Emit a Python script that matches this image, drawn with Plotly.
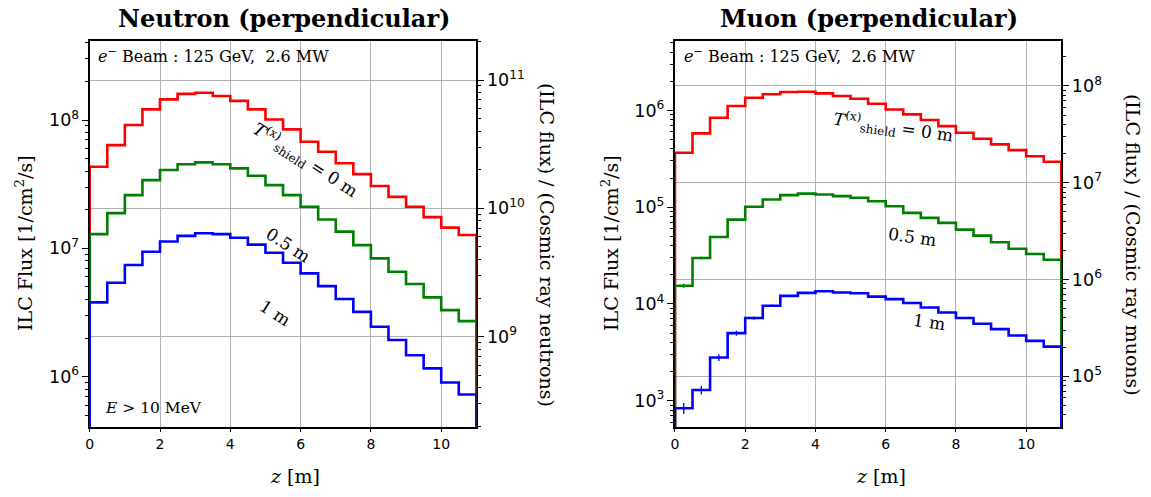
import math
import plotly.graph_objects as go

# ---------------- data ----------------
z_edges = [0.0, 0.5, 1.0, 1.5, 2.0, 2.5, 3.0, 3.5, 4.0, 4.5, 5.0, 5.5,
           6.0, 6.5, 7.0, 7.5, 8.0, 8.5, 9.0, 9.5, 10.0, 10.5, 11.0]

neutron_0m = [4.33e7, 6.38e7, 9.14e7, 1.21e8, 1.45e8, 1.60e8, 1.63e8, 1.54e8, 1.41e8, 1.21e8, 1.01e8,
              8.46e7, 6.77e7, 5.66e7, 4.60e7, 3.79e7, 3.06e7, 2.52e7, 2.11e7, 1.75e7, 1.45e7, 1.27e7]
neutron_05m = [1.29e7, 1.88e7, 2.60e7, 3.40e7, 4.08e7, 4.52e7, 4.68e7, 4.52e7, 4.20e7, 3.68e7, 3.11e7,
               2.60e7, 2.11e7, 1.68e7, 1.35e7, 1.06e7, 8.36e6, 6.57e6, 5.27e6, 4.15e6, 3.30e6, 2.71e6]
neutron_1m = [3.79e6, 5.39e6, 7.41e6, 9.41e6, 1.13e7, 1.25e7, 1.31e7, 1.29e7, 1.21e7, 1.07e7, 9.24e6,
              7.73e6, 6.38e6, 5.08e6, 4.03e6, 3.20e6, 2.45e6, 1.93e6, 1.47e6, 1.16e6, 9.01e5, 7.26e5]

muon_0m = [3.65e5, 5.78e5, 8.40e5, 1.11e6, 1.35e6, 1.47e6, 1.55e6, 1.56e6, 1.50e6, 1.41e6, 1.32e6,
           1.17e6, 1.02e6, 9.09e5, 7.94e5, 6.88e5, 5.88e5, 5.09e5, 4.45e5, 3.88e5, 3.36e5, 2.94e5]
muon_05m = [1.54e4, 2.98e4, 4.92e4, 7.43e4, 1.01e5, 1.20e5, 1.33e5, 1.38e5, 1.35e5, 1.30e5, 1.25e5,
            1.15e5, 1.02e5, 8.72e4, 7.74e4, 6.87e4, 5.86e4, 5.08e4, 4.33e4, 3.72e4, 3.28e4, 2.86e4]
muon_1m = [835, 1290, 2790, 4990, 7140, 9570, 1.21e4, 1.30e4, 1.35e4, 1.31e4, 1.29e4,
           1.19e4, 1.12e4, 1.02e4, 9.19e3, 8.15e3, 7.14e3, 6.23e3, 5.49e3, 4.71e3, 4.15e3, 3.62e3]

# relative statistical errors (muon histograms)
muon_0m_relerr = [0.01] * 22
muon_05m_relerr = [0.05, 0.035, 0.02, 0.015, 0.012] + [0.01] * 17
muon_1m_relerr = [0.13, 0.10, 0.08, 0.06, 0.04, 0.03, 0.02, 0.02, 0.02, 0.02, 0.02,
                  0.02, 0.02, 0.02, 0.02, 0.02, 0.02, 0.02, 0.02, 0.02, 0.02, 0.02]

# cosmic-ray reference fluxes [1/cm^2/s] used for the right-hand axes
cosmic_neutron_flux = 2.05e-3
cosmic_muon_flux = 1.79e-2

# axis ranges (log10) for the left axes
neutron_range = [5.61, 8.616]
muon_range = [2.731, 6.717]

colors = {"0m": "#ff0000", "05m": "#008000", "1m": "#0000ff"}

W, H = 1151, 497
SERIF = "DejaVu Serif"
SANS = "DejaVu Sans"
BASE = 1e-3


def step_xy(vals):
    xs = [z_edges[0]] + z_edges[:-1] + [z_edges[-1], z_edges[-1]]
    ys = [BASE] + list(vals) + [vals[-1], BASE]
    return xs, ys


fig = go.Figure()

centers = [(a + b) / 2 for a, b in zip(z_edges[:-1], z_edges[1:])]

for vals, key in [(neutron_0m, "0m"), (neutron_05m, "05m"), (neutron_1m, "1m")]:
    xs, ys = step_xy(vals)
    fig.add_trace(go.Scatter(x=xs, y=ys, mode="lines", line=dict(color=colors[key], width=2.6, shape="hv"),
                             xaxis="x", yaxis="y", showlegend=False, hoverinfo="skip"))

for vals, err, key in [(muon_0m, muon_0m_relerr, "0m"), (muon_05m, muon_05m_relerr, "05m"),
                       (muon_1m, muon_1m_relerr, "1m")]:
    xs, ys = step_xy(vals)
    fig.add_trace(go.Scatter(x=xs, y=ys, mode="lines", line=dict(color=colors[key], width=2.6, shape="hv"),
                             xaxis="x2", yaxis="y3", showlegend=False, hoverinfo="skip"))
    fig.add_trace(go.Scatter(x=centers, y=vals, mode="markers", marker=dict(size=0.1, color=colors[key]),
                             error_y=dict(type="data", array=[v * e for v, e in zip(vals, err)],
                                          color=colors[key], thickness=1.3, width=0),
                             xaxis="x2", yaxis="y3", showlegend=False, hoverinfo="skip"))

# dummy traces so right-hand axes are drawn
fig.add_trace(go.Scatter(x=[None], y=[None], xaxis="x", yaxis="y2", showlegend=False))
fig.add_trace(go.Scatter(x=[None], y=[None], xaxis="x2", yaxis="y4", showlegend=False))


def px_x(p):
    return p / W


def px_y(p):
    return 1 - p / H


plot_top, plot_bot = 41, 426.7
ydom = [px_y(plot_bot), px_y(plot_top)]
xdom1 = [px_x(86), px_x(474)]
xdom2 = [px_x(673.3), px_x(1061)]

tickfont = dict(family=SANS, size=14, color="black")

xcommon = dict(range=[0, 11], tickvals=[0, 2, 4, 6, 8, 10], ticks="outside", ticklen=4, tickwidth=1,
               tickcolor="black", showline=True, linecolor="black", linewidth=1.5, mirror=True,
               showgrid=True, gridcolor="#b0b0b0", gridwidth=1, zeroline=False, tickfont=tickfont,
               layer="below traces")

ycommon = dict(type="log", dtick=1, exponentformat="power", ticks="outside", ticklen=6, tickwidth=1,
               tickcolor="black", showline=True, linecolor="black", linewidth=1.5, zeroline=False,
               tickfont=tickfont, minor=dict(ticks="outside", ticklen=3, tickcolor="black", showgrid=False),
               layer="below traces")

lc_n = math.log10(cosmic_neutron_flux)
lc_m = math.log10(cosmic_muon_flux)

fig.update_layout(
    width=W, height=H, margin=dict(l=0, r=0, t=0, b=0),
    paper_bgcolor="white", plot_bgcolor="white",
    xaxis=dict(domain=xdom1, anchor="y", **xcommon),
    xaxis2=dict(domain=xdom2, anchor="y3", **xcommon),
    yaxis=dict(domain=ydom, anchor="x", range=neutron_range, showgrid=False, side="left", **ycommon),
    yaxis2=dict(domain=ydom, anchor="x", overlaying="y", side="right",
                range=[neutron_range[0] - lc_n, neutron_range[1] - lc_n],
                showgrid=True, gridcolor="#b0b0b0", gridwidth=1, **ycommon),
    yaxis3=dict(domain=ydom, anchor="x2", range=muon_range, showgrid=False, side="left", **ycommon),
    yaxis4=dict(domain=ydom, anchor="x2", overlaying="y3", side="right",
                range=[muon_range[0] - lc_m, muon_range[1] - lc_m],
                showgrid=True, gridcolor="#b0b0b0", gridwidth=1, **ycommon),
)

ann = []


def text(s, x, y, size, angle=0, xanchor="center", yanchor="middle", family=SERIF):
    ann.append(dict(text=s, x=px_x(x), y=px_y(y), xref="paper", yref="paper", showarrow=False,
                    textangle=angle, xanchor=xanchor, yanchor=yanchor,
                    font=dict(family=family, size=size, color="black")))


# titles
text("<b>Neutron (perpendicular)</b>", 281, 18, 24)
text("<b>Muon (perpendicular)</b>", 868, 18, 24)
# axis titles
text("ILC Flux [1/cm<sup>2</sup>/s]", 20, 243, 19, angle=-90)
text("ILC Flux [1/cm<sup>2</sup>/s]", 608, 243, 19, angle=-90)
text("(ILC flux) / (Cosmic ray neutrons)", 545, 245, 19, angle=90)
text("(ILC flux) / (Cosmic ray muons)", 1133, 245, 19, angle=90)
text("<i>z</i> [m]", 292, 476, 19)
text("<i>z</i> [m]", 880, 476, 19)
# in-plot texts
text("<i>e</i><sup>−</sup> Beam : 125 GeV,  2.6 MW", 92, 56, 16, xanchor="left")
text("<i>e</i><sup>−</sup> Beam : 125 GeV,  2.6 MW", 680, 56, 16, xanchor="left")
text("<i>E</i> &gt; 10 MeV", 99, 408, 15.5, xanchor="left")
# curve labels
text("<i>T</i><sup>(x)</sup><sub>shield</sub> = 0 m", 303, 160, 17, angle=33)
text("0.5 m", 285, 245, 17, angle=33)
text("1 m", 272, 313, 17, angle=33)
text("<i>T</i><sup>(x)</sup><sub>shield</sub> = 0 m", 893, 127, 17, angle=8)
text("0.5 m", 912, 237, 17, angle=8)
text("1 m", 928, 322, 17, angle=8)

fig.update_layout(annotations=ann)

fig.write_html("out.html", config={"displayModeBar": False},
               post_script="document.body.style.margin='0px';document.body.style.overflow='hidden';")
